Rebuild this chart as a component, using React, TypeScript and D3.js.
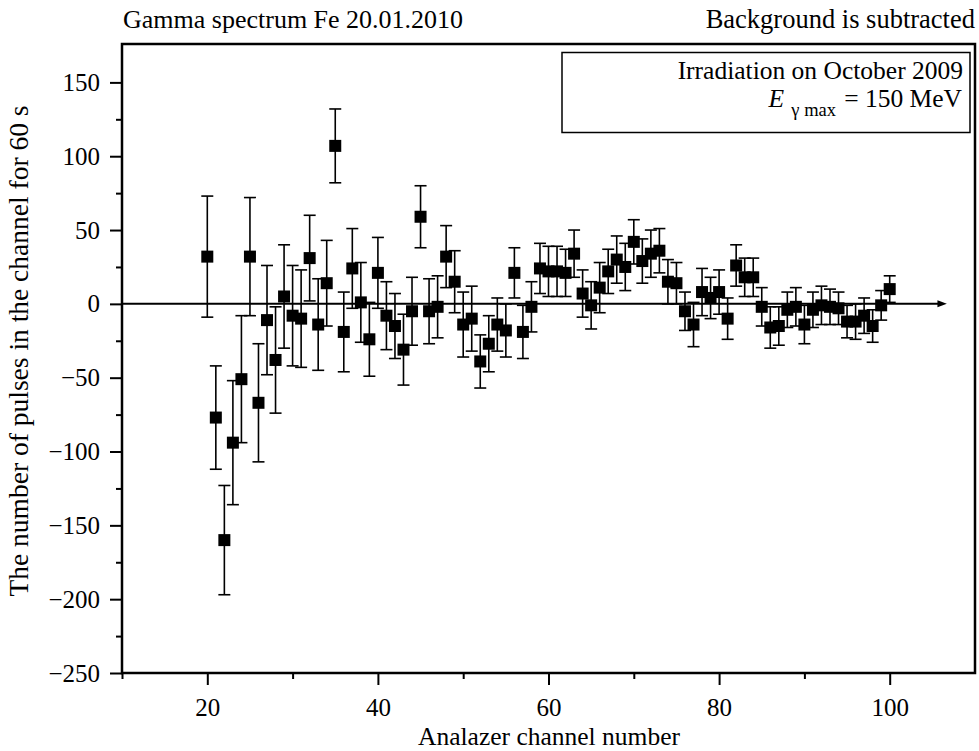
import React, { useEffect, useRef } from "react";
import * as d3 from "d3";

// channel numbers, counts (background subtracted) and their errors
const channels = [
  20, 21, 22, 23, 24, 25, 26, 27, 28, 29, 30, 31, 32, 33, 34, 35, 36, 37, 38, 39,
  40, 41, 42, 43, 44, 45, 46, 47, 48, 49, 50, 51, 52, 53, 54, 55, 56, 57, 58, 59,
  60, 61, 62, 63, 64, 65, 66, 67, 68, 69, 70, 71, 72, 73, 74, 75, 76, 77, 78, 79,
  80, 81, 82, 83, 84, 85, 86, 87, 88, 89, 90, 91, 92, 93, 94, 95, 96, 97, 98, 99,
  100
];
const counts = [
  32, -77, -160, -94, -51, 32, -67, -11, -38, 5, -8, -10, 31, -14, 14, 107, -19, 24, 1, -24,
  21, -8, -15, -31, -5, 59, -5, -2, 32, 15, -14, -10, -39, -27, -14, -18, 21, -19, -2, 24,
  22, 22, 21, 34, 7, -1, 11, 22, 30, 25, 42, 29, 34, 36, 15, 14, -5, -14, 8, 4,
  8, -10, 26, 18, 18, -2, -16, -15, -4, -2, -14, -4, -1, -2, -3, -12, -12, -8, -15, -1,
  10
];
const errors = [
  41, 35, 37, 42, 43, 40, 40, 37, 36, 35, 34, 33, 29, 31, 29, 25, 27, 27, 27, 25,
  24, 23, 22, 24, 23, 21, 22, 21, 21, 21, 22, 22, 18, 19, 18, 18, 17, 18, 17, 17,
  17, 17, 16, 16, 16, 16, 17, 15, 16, 16, 15, 15, 16, 15, 15, 14, 13, 15, 16, 14,
  15, 14, 14, 13, 13, 13, 14, 13, 12, 13, 13, 12, 13, 12, 11, 11, 12, 12, 11, 10,
  9
];

const yMajorTicks = [-250, -200, -150, -100, -50, 0, 50, 100, 150];
const yMinorTicks = [-225, -175, -125, -75, -25, 25, 75, 125];
const xMajorTicks = [20, 40, 60, 80, 100];
const xMinorTicks = [10, 30, 50, 70, 90];

const FONT = "Liberation Serif, DejaVu Serif, serif";

const App = () => {
  const svgRef = useRef<SVGSVGElement>(null);

  useEffect(() => {
    const svg = d3.select(svgRef.current);
    svg.selectAll("*").remove();

    // ----- scales
    const x = d3.scaleLinear().domain([10, 110]).range([122, 975]);
    const y = d3.scaleLinear().domain([-250, 176]).range([673, 44]);

    const fmt = (d: number) => (d < 0 ? "\u2212" + Math.abs(d) : String(d));

    // ----- y axis (minor + major ticks)
    const yMinor = svg.append("g").attr("transform", `translate(${x(10)},0)`)
      .call(d3.axisLeft(y).tickValues(yMinorTicks).tickSize(6).tickFormat(() => ""));
    const yMajor = svg.append("g").attr("transform", `translate(${x(10)},0)`)
      .call(d3.axisLeft(y).tickValues(yMajorTicks).tickSize(12).tickPadding(10).tickFormat(fmt as any));

    // ----- x axis
    const xMinor = svg.append("g").attr("transform", `translate(0,${y(-250)})`)
      .call(d3.axisBottom(x).tickValues(xMinorTicks).tickSize(6).tickFormat(() => ""));
    const xMajor = svg.append("g").attr("transform", `translate(0,${y(-250)})`)
      .call(d3.axisBottom(x).tickValues(xMajorTicks).tickSize(12).tickPadding(13).tickFormat(fmt as any));

    [yMinor, yMajor, xMinor, xMajor].forEach(g => {
      g.attr("font-family", FONT).attr("font-size", 25);
      g.select(".domain").remove();
      g.selectAll(".tick line").attr("stroke", "#000").attr("stroke-width", 2);
      g.selectAll(".tick text")
        .attr("fill", "#000")
        .attr("font-family", FONT)
        .attr("font-size", 25);
    });

    // ----- frame
    svg.append("path")
      .attr("d", `M${x(10)},${y(-250)}V${y(176)}H${x(110)}V${y(-250)}Z`)
      .attr("fill", "none")
      .attr("stroke", "#000")
      .attr("stroke-width", 2.5);

    // ----- zero line with arrow
    svg.append("line")
      .attr("x1", x(10)).attr("x2", x(106))
      .attr("y1", y(0)).attr("y2", y(0))
      .attr("stroke", "#000").attr("stroke-width", 2);
    svg.append("path")
      .attr("d", `M${x(105.6)},${y(0) - 3.5}L${x(106.7)},${y(0)}L${x(105.6)},${y(0) + 3.5}Z`)
      .attr("fill", "#000");

    // ----- error bars and markers
    const pts = channels.map((c, i) => ({ c, v: counts[i], e: errors[i] }));
    const cap = 6;
    const g = svg.append("g");
    const bars = g.selectAll(".pt").data(pts).join("g").attr("class", "pt");
    bars.append("line")
      .attr("x1", d => x(d.c)).attr("x2", d => x(d.c))
      .attr("y1", d => y(d.v - d.e)).attr("y2", d => y(d.v + d.e))
      .attr("stroke", "#000").attr("stroke-width", 1.6);
    bars.append("line")
      .attr("x1", d => x(d.c) - cap).attr("x2", d => x(d.c) + cap)
      .attr("y1", d => y(d.v + d.e)).attr("y2", d => y(d.v + d.e))
      .attr("stroke", "#000").attr("stroke-width", 1.6);
    bars.append("line")
      .attr("x1", d => x(d.c) - cap).attr("x2", d => x(d.c) + cap)
      .attr("y1", d => y(d.v - d.e)).attr("y2", d => y(d.v - d.e))
      .attr("stroke", "#000").attr("stroke-width", 1.6);
    const sq = 12;
    bars.append("rect")
      .attr("x", d => x(d.c) - sq / 2).attr("y", d => y(d.v) - sq / 2)
      .attr("width", sq).attr("height", sq)
      .attr("fill", "#000");

    // ----- legend box
    svg.append("rect")
      .attr("x", 562).attr("y", 52.5).attr("width", 408).attr("height", 80)
      .attr("fill", "#fff").attr("stroke", "#000").attr("stroke-width", 1.5);
    svg.append("text")
      .attr("x", 963).attr("y", 79).attr("text-anchor", "end")
      .attr("font-family", FONT).attr("font-size", 25.5)
      .text("Irradiation on October 2009");

    svg.append("text")
      .attr("x", 962).attr("y", 107).attr("text-anchor", "end")
      .attr("font-family", FONT).attr("font-size", 25.5)
      .text("= 150 MeV");
    svg.append("text")
      .attr("x", 836).attr("y", 116).attr("text-anchor", "end")
      .attr("font-family", FONT).attr("font-size", 18.5)
      .text("\u03b3 max");
    svg.append("text")
      .attr("x", 784).attr("y", 107).attr("text-anchor", "end")
      .attr("font-family", FONT).attr("font-size", 25.5).attr("font-style", "italic")
      .text("E");

    // ----- titles
    svg.append("text")
      .attr("x", 123).attr("y", 28)
      .attr("font-family", FONT).attr("font-size", 26)
      .text("Gamma spectrum Fe 20.01.2010");
    svg.append("text")
      .attr("x", 975).attr("y", 28).attr("text-anchor", "end")
      .attr("font-family", FONT).attr("font-size", 26.5)
      .text("Background is subtracted");

    // ----- axis labels
    svg.append("text")
      .attr("x", 549).attr("y", 745).attr("text-anchor", "middle")
      .attr("font-family", FONT).attr("font-size", 25.5)
      .text("Analazer channel number");
    svg.append("text")
      .attr("transform", "translate(28,351) rotate(-90)")
      .attr("text-anchor", "middle")
      .attr("font-family", FONT).attr("font-size", 27.5)
      .text("The number of pulses in the channel for 60 s");
  }, []);

  return (
    <svg
      ref={svgRef}
      width={979}
      height={751}
      fontFamily={FONT}
      style={{ position: "absolute", left: 0, top: 0, background: "#fff" }}
    />
  );
};

export default App;
